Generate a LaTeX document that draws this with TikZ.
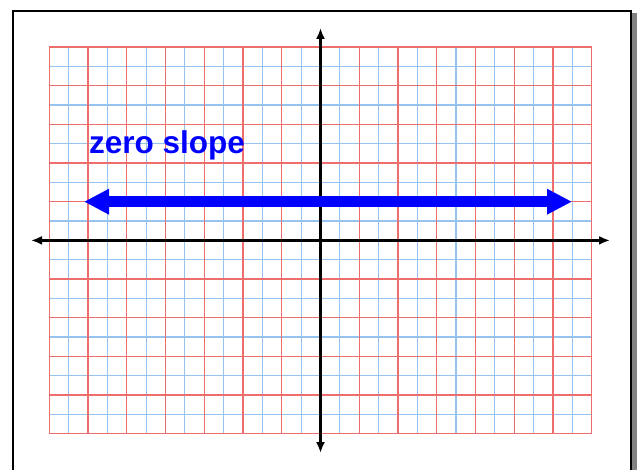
\documentclass[tikz,border=0pt]{standalone}
\usepackage{fontspec}
\setmainfont{Liberation Sans}
\usetikzlibrary{arrows.meta}
\definecolor{gridred}{RGB}{238,110,110}
\definecolor{gridblue}{RGB}{150,195,240}
\definecolor{shadowgrey}{RGB}{130,130,130}
\tikzset{
  minorline/.style={draw=gridblue, line width=1.2pt},
  majorline/.style={draw=gridred, line width=1.2pt},
  axisline/.style={draw=black, line width=2.4pt, -{Latex[length=11pt,width=9pt]}},
  slopearrow/.style={draw=blue, line width=11pt, {Triangle[length=25pt,width=24pt]}-{Triangle[length=25pt,width=24pt]}},
  label/.style={text=blue, font=\bfseries\fontsize{31.5}{36}\selectfont, inner sep=0pt, anchor=base west}
}
\begin{document}
\begin{tikzpicture}[x=1pt,y=-1pt]
\useasboundingbox (0,0) rectangle (640,470);
% frame with shadow
\fill[shadowgrey] (632,13) rectangle (637,470);
\draw[line width=2.5pt] (13,480) -- (13,11) -- (631,11) -- (631,480);
% grid
\def\gx{49.3}\def\gy{47}\def\cw{38.74}\def\ch{38.67}
\foreach \i in {0,...,13} {
  \draw[minorline] ({\gx+(\i+0.5)*\cw},\gy) -- ({\gx+(\i+0.5)*\cw},{\gy+10*\ch});
}
\foreach \j in {0,...,9} {
  \draw[minorline] (\gx,{\gy+(\j+0.5)*\ch}) -- ({\gx+14*\cw},{\gy+(\j+0.5)*\ch});
}
\foreach \i in {0,...,14} {
  \draw[majorline] ({\gx+\i*\cw},\gy) -- ({\gx+\i*\cw},{\gy+10*\ch});
}
\foreach \j in {0,...,10} {
  \draw[majorline] (\gx,{\gy+\j*\ch}) -- ({\gx+14*\cw},{\gy+\j*\ch});
}
% axes
\coordinate (o) at (320.5,240.4);
\coordinate (xl) at (31,240.4);
\coordinate (xr) at (610,240.4);
\coordinate (yt) at (320.5,28);
\coordinate (yb) at (320.5,453);
\draw[axisline] (o) -- (xr);
\draw[axisline] (o) -- (xl);
\draw[axisline] (o) -- (yt);
\draw[axisline] (o) -- (yb);
% zero slope line
\coordinate (sl) at (84,201.7);
\coordinate (sr) at (572,201.7);
\draw[slopearrow] (sl) -- (sr);
\node[label] (lbl) at (89,153.3) {zero slope};
\end{tikzpicture}
\end{document}
